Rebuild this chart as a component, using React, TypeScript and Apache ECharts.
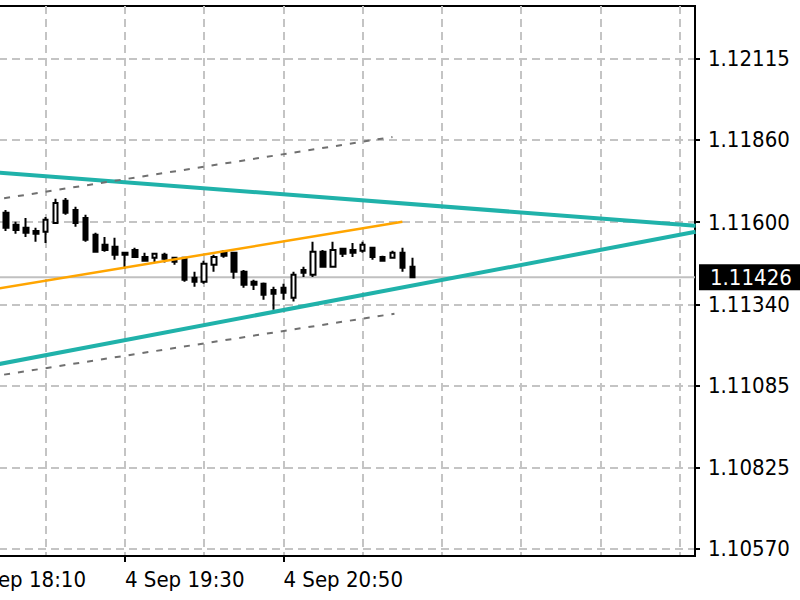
import React, { useEffect, useRef } from "react";
import * as echarts from "echarts";

// ---- data (EURUSD M5, 4 Sep) ----
const DATE_LABEL = "4 Sep";
const times = [
  "18:30", "18:35", "18:40", "18:45", "18:50", "18:55",
  "19:00", "19:05", "19:10", "19:15", "19:20", "19:25", "19:30", "19:35", "19:40", "19:45", "19:50", "19:55",
  "20:00", "20:05", "20:10", "20:15", "20:20", "20:25", "20:30", "20:35", "20:40", "20:45", "20:50", "20:55",
  "21:00", "21:05", "21:10", "21:15", "21:20", "21:25", "21:30", "21:35", "21:40", "21:45", "21:50", "21:55",
];
const opens = [1.11629, 1.11591, 1.11582, 1.11572, 1.11569, 1.11597, 1.11667, 1.11638, 1.11613, 1.1156, 1.11528, 1.11522, 1.11503, 1.11512, 1.1149, 1.11487, 1.11497, 1.11487, 1.11487, 1.11424, 1.11412, 1.11465, 1.11506, 1.11503, 1.11443, 1.11412, 1.11405, 1.11386, 1.11393, 1.11361, 1.11449, 1.11434, 1.11506, 1.11459, 1.11516, 1.11512, 1.11509, 1.11519, 1.1149, 1.11487, 1.11503, 1.11459];
const closes = [1.11582, 1.11575, 1.11566, 1.11563, 1.11607, 1.1166, 1.11629, 1.11597, 1.11544, 1.11506, 1.11512, 1.11497, 1.11497, 1.1149, 1.11478, 1.115, 1.11484, 1.11475, 1.11418, 1.11412, 1.11468, 1.1149, 1.11494, 1.11443, 1.11402, 1.11402, 1.11371, 1.11374, 1.11377, 1.11434, 1.1144, 1.11506, 1.11459, 1.11512, 1.115, 1.11503, 1.11528, 1.1149, 1.11478, 1.11503, 1.11456, 1.11426];
const lows = [1.11572, 1.11563, 1.11553, 1.11538, 1.11534, 1.11597, 1.11623, 1.11585, 1.11538, 1.11503, 1.11506, 1.11481, 1.11453, 1.11487, 1.11475, 1.11472, 1.11472, 1.11465, 1.11412, 1.11396, 1.11405, 1.11443, 1.11487, 1.11421, 1.11393, 1.11386, 1.11355, 1.11323, 1.11355, 1.11349, 1.11427, 1.11427, 1.11456, 1.11456, 1.1149, 1.1149, 1.11503, 1.11481, 1.11475, 1.11484, 1.11443, 1.11426];
const highs = [1.11638, 1.11601, 1.11613, 1.11582, 1.11616, 1.11673, 1.11676, 1.11648, 1.11623, 1.11566, 1.11553, 1.1155, 1.11506, 1.11519, 1.11503, 1.11503, 1.11503, 1.1149, 1.1149, 1.11443, 1.11478, 1.11497, 1.11512, 1.11506, 1.11449, 1.11418, 1.11409, 1.11396, 1.11405, 1.11443, 1.11459, 1.11538, 1.11512, 1.11538, 1.11519, 1.11534, 1.11538, 1.11522, 1.11494, 1.11509, 1.11519, 1.11487];

// trend lines: [time, price] end points
const upperTeal: [string, number][] = [["18:22", 1.11758], ["24:18", 1.11588]];
const lowerTeal: [string, number][] = [["18:22", 1.11147], ["24:18", 1.11569]];
const orangeLine: [string, number][] = [["18:22", 1.11386], ["21:50", 1.11601]];
const channelUpper: [string, number][] = [["18:22", 1.11668], ["21:45", 1.11868]];
const channelLower: [string, number][] = [["18:22", 1.11112], ["21:46", 1.11311]];

// axis ticks
const yTickLabels = [1.1057, 1.10825, 1.11085, 1.1134, 1.116, 1.1186, 1.12115];
const xLabelTimes = ["18:10", "19:30", "20:50"];
const xGridTimes = ["18:10", "18:50", "19:30", "20:10", "20:50", "21:30", "22:10", "22:50", "23:30", "24:10"];

const Y_MIN = 1.10547;
const Y_MAX = 1.12281;
const X_MIN_T = 1086.72; // minutes
const X_MAX_T = 1457.7;

const FONT = "'DejaVu Sans Condensed', 'Liberation Sans', sans-serif";

const toMin = (t: string) => {
  const [h, m] = t.split(":").map(Number);
  return h * 60 + m;
};
const fmtTime = (v: number) => {
  const total = Math.round(v);
  const h = Math.floor(total / 60) % 24;
  const m = total % 60;
  return `${h}:${String(m).padStart(2, "0")}`;
};

const App: React.FC = () => {
  const ref = useRef<HTMLDivElement>(null);

  useEffect(() => {
    if (!ref.current) return;
    const chart = echarts.init(ref.current, undefined, { renderer: "svg" });
    const candleData = times.map((t, i) => [toMin(t), opens[i], closes[i], lows[i], highs[i]]);
    const lastClose = closes[closes.length - 1];
    const toXY = (arr: [string, number][]) => arr.map(([t, p]) => [toMin(t), p]);
    const gridLine = { color: "#c4c4c4", width: 2, type: [8, 5] as number[] };

    const lineSeries = (data: [string, number][], color: string, width: number, type: any) => ({
      type: "line",
      xAxisIndex: 0,
      yAxisIndex: 0,
      data: toXY(data),
      symbol: "none",
      clip: true,
      silent: true,
      z: 4,
      lineStyle: { color, width, type },
    });

    chart.setOption({
      animation: false,
      backgroundColor: "#ffffff",
      textStyle: { fontFamily: FONT },
      grid: {
        left: -40,
        right: 105,
        top: 6,
        bottom: 44,
        show: true,
        borderColor: "#000",
        borderWidth: 2,
        containLabel: false,
        outerBoundsMode: "none",
      },
      xAxis: [
        {
          type: "value",
          min: X_MIN_T,
          max: X_MAX_T,
          axisLine: { show: false },
          axisTick: { show: false, customValues: xGridTimes.map(toMin) },
          axisLabel: { show: false },
          splitLine: { show: true, lineStyle: gridLine },
        },
        {
          type: "value",
          min: X_MIN_T,
          max: X_MAX_T,
          position: "bottom",
          axisLine: { show: true, onZero: false, lineStyle: { color: "#000", width: 2 } },
          axisTick: {
            show: true,
            length: 6,
            customValues: xLabelTimes.map(toMin),
            lineStyle: { color: "#000", width: 2 },
          },
          axisLabel: {
            show: true,
            customValues: xLabelTimes.map(toMin),
            formatter: (v: number) => `${DATE_LABEL} ${fmtTime(v)}`,
            align: "left",
            margin: 12,
            fontSize: 22,
            color: "#000",
            fontFamily: FONT,
          },
          splitLine: { show: false },
        },
      ],
      yAxis: {
        type: "value",
        position: "right",
        min: Y_MIN,
        max: Y_MAX,
        axisLine: { show: true, onZero: false, lineStyle: { color: "#000", width: 2 } },
        axisTick: { show: true, length: 5, customValues: yTickLabels, lineStyle: { color: "#000", width: 2 } },
        axisLabel: {
          customValues: yTickLabels,
          formatter: (v: number) => v.toFixed(5),
          margin: 13,
          fontSize: 22,
          color: "#000",
          fontFamily: FONT,
        },
        splitLine: { show: true, lineStyle: gridLine },
      },
      series: [
        {
          type: "line",
          xAxisIndex: 0,
          yAxisIndex: 0,
          data: [
            [X_MIN_T, lastClose],
            [X_MAX_T, lastClose],
          ],
          symbol: "none",
          silent: true,
          clip: false,
          z: 2,
          lineStyle: { color: "#c0c0c0", width: 2 },
          endLabel: {
            show: true,
            distance: 4,
            formatter: () => lastClose.toFixed(5),
            color: "#fff",
            backgroundColor: "#000",
            fontSize: 22,
            lineHeight: 22,
            padding: [2, 30, 2, 11],
            fontFamily: FONT,
          },
        },
        {
          type: "candlestick",
          xAxisIndex: 0,
          yAxisIndex: 0,
          data: candleData,
          barWidth: 5,
          z: 3,
          itemStyle: {
            color: "#ffffff",
            color0: "#000000",
            borderColor: "#000000",
            borderColor0: "#000000",
            borderColorDoji: "#000000",
            borderWidth: 2,
          },
        },
        lineSeries(upperTeal, "#20b2aa", 4, "solid"),
        lineSeries(lowerTeal, "#20b2aa", 4, "solid"),
        lineSeries(orangeLine, "#ffa500", 2.5, "solid"),
        lineSeries(channelUpper, "#707070", 2, [6, 8]),
        lineSeries(channelLower, "#707070", 2, [6, 8]),
      ],
    });

    return () => chart.dispose();
  }, []);

  return (
    <div
      ref={ref}
      style={{ position: "absolute", left: 0, top: 0, width: 800, height: 600, background: "#fff" }}
    />
  );
};

export default App;
